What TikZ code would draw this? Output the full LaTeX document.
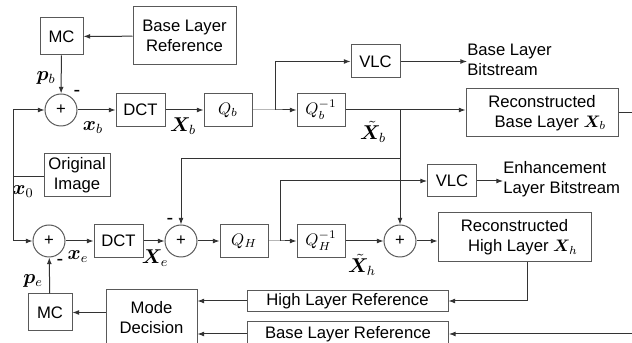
\documentclass[tikz,border=0pt]{standalone}
\usepackage{fontspec}
\setmainfont{Liberation Sans}
\usepackage{amsmath,bm}
\usetikzlibrary{arrows.meta}

\def\pxu{.6pt}
\tikzstyle{blk}=[draw=black!65,line width=.6pt,inner sep=1pt,align=center]
\tikzstyle{sq}=[blk,minimum width=49*\pxu,minimum height=33*\pxu]
\tikzstyle{sm}=[draw=black!65,line width=.6pt,circle,minimum size=32*\pxu,inner sep=0pt]
\tikzstyle{wire}=[draw=black!80,line width=.6pt]
\tikzstyle{arr}=[wire,-{Latex[length=4pt,width=3pt]}]
\tikzstyle{lbl}=[inner sep=0pt,font=\large]

\begin{document}
\begin{tikzpicture}[x=\pxu,y=-\pxu]
	\useasboundingbox (0,0) rectangle (632,343);
	% base layer
	\node[blk,minimum width=43*\pxu,minimum height=37*\pxu] (mcb) at (61.5,36.5) {MC};
	\node[blk,minimum width=103*\pxu,minimum height=58*\pxu] (blr) at (184.5,36) {Base Layer\\Reference};
	\node[sm] (sumb) at (61,110) {+};
	\node[sq] (dctb) at (140.5,110) {DCT};
	\node[sq,minimum width=48*\pxu] (qb) at (228,110) {$Q_b$};
	\node[sq] (vlcb) at (375.5,61.5) {VLC};
	\node[sq,minimum width=48*\pxu] (iqb) at (321,110) {$Q_b^{-1}$};
	\node[blk,minimum width=152*\pxu,minimum height=48*\pxu] (recb) at (542,113) {Reconstructed\\\quad Base Layer $\bm{X}_b$};
	\node[lbl,font=\normalsize,right,align=left] (bsb) at (467,60) {Base Layer\\Bitstream};
	\node[blk,minimum width=66*\pxu,minimum height=43*\pxu] (orig) at (77,175.5) {Original\\Image};
	% enhancement layer
	\node[sm] (sume) at (49,241) {+};
	\node[sq] (dcte) at (118.5,241) {DCT};
	\node[sm] (sumh) at (181,241) {+};
	\node[sq,minimum width=48*\pxu] (qh) at (244,241) {$Q_H$};
	\node[sq,minimum width=48*\pxu] (iqh) at (321,241) {$Q_H^{-1}$};
	\node[sm] (sumr) at (400,241) {+};
	\node[blk,minimum width=153*\pxu,minimum height=49*\pxu] (rech) at (514.5,237.5) {Reconstructed\\\quad High Layer $\bm{X}_h$};
	\node[sq,minimum height=32*\pxu] (vlce) at (452,181) {VLC};
	\node[lbl,font=\normalsize,right,align=left] (bse) at (503,179) {Enhancement\\Layer Bitstream};
	\node[blk,minimum width=44*\pxu,minimum height=37*\pxu] (mce) at (50,312.5) {MC};
	\node[blk,minimum width=91*\pxu,minimum height=56*\pxu] (mode) at (151.5,318) {Mode\\Decision};
	\node[blk,minimum width=201*\pxu,minimum height=21*\pxu] (hlr) at (347.5,301) {High Layer Reference};
	\node[blk,minimum width=201*\pxu,minimum height=24*\pxu] (blr2) at (348,334) {Base Layer Reference};
	% labels
	\node[lbl] (lpb) at (46,78) {$\bm{p}_b$};
	\node[lbl] at (77,93) {-};
	\node[lbl] (lxb) at (93,128) {$\bm{x}_b$};
	\node[lbl] (lXb) at (183,126) {$\bm{X}_b$};
	\node[lbl] (ltb) at (373,132) {$\tilde{\bm{X}}_b$};
	\node[lbl] (lx0) at (23,192) {$\bm{x}_0$};
	\node[lbl] (lxe) at (78,257) {$\bm{x}_e$};
	\node[lbl] at (60,262) {-};
	\node[lbl] (lXe) at (155,258) {$\bm{X}_e$};
	\node[lbl] at (170,221) {-};
	\node[lbl] (lpe) at (33,281) {$\bm{p}_e$};
	\node[lbl] (lth) at (362,265) {$\tilde{\bm{X}}_h$};
	% branch points
	\coordinate (src) at (13,177);
	\coordinate (brq) at (275,110);
	\coordinate (brx) at (400,110);
	\coordinate (brh) at (400,159);
	\coordinate (brqh) at (280,241);
	\coordinate (hdrop) at (527,262);
	\coordinate (edge) at (645,113);
	% connectors
	\draw[arr] (blr) -- (mcb);
	\draw[arr] (mcb) -- (sumb);
	\draw[wire] (orig.west |- src) -- (src);
	\draw[arr] (src) |- (sumb);
	\draw[arr] (src) |- (sume);
	\draw[arr] (sumb) -- (dctb);
	\draw[arr] (dctb) -- (qb);
	\draw[arr] (qb) -- (brq) -- (iqb);
	\draw[arr] (brq) |- (vlcb);
	\draw[arr] (vlcb) -- (vlcb -| bsb.west);
	\draw[arr] (iqb) -- (recb.west |- iqb);
	\draw[arr] (brx) -- (sumr);
	\draw[arr] (brh) -| (sumh);
	\draw[arr] (sume) -- (dcte);
	\draw[arr] (dcte) -- (sumh);
	\draw[arr] (sumh) -- (qh);
	\draw[arr] (qh) -- (brqh) -- (iqh);
	\draw[arr] (brqh) |- (vlce);
	\draw[arr] (vlce) -- (vlce -| bse.west);
	\draw[arr] (iqh) -- (sumr);
	\draw[arr] (sumr) -- (sumr -| rech.west);
	\draw[arr] (hdrop) |- (hlr);
	\draw[arr] (recb.east |- edge) -- (edge) |- (blr2);
	\draw[arr] (hlr.west) -- (hlr.west -| mode.east);
	\draw[arr] (blr2.west) -- (blr2.west -| mode.east);
	\draw[arr] (mode.west |- mce) -- (mce);
	\draw[arr] (mce) -- (sume);
\end{tikzpicture}
\end{document}
